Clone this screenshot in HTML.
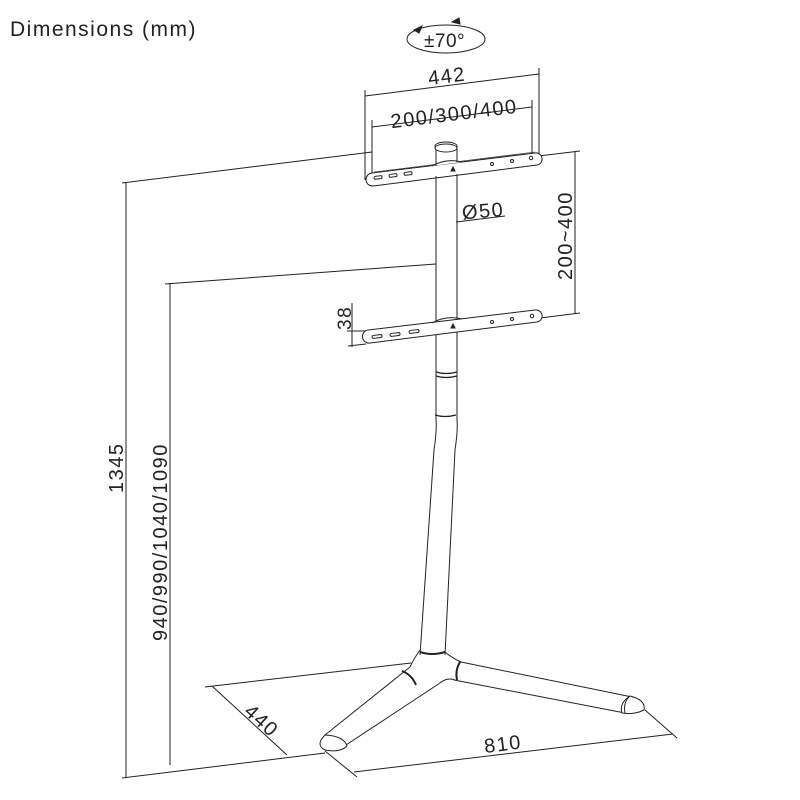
<!DOCTYPE html>
<html><head><meta charset="utf-8"><style>
html,body{margin:0;padding:0;background:#fff;width:800px;height:800px;overflow:hidden}
svg text{font-family:"Liberation Sans",sans-serif;fill:#222;letter-spacing:1.5px}
</style></head><body>
<svg width="800" height="800" viewBox="0 0 800 800" xmlns="http://www.w3.org/2000/svg" fill="none" stroke="#222" stroke-width="1">
<text x="10" y="36" font-size="21" stroke="none">Dimensions (mm)</text>
<!-- rotation -->
<ellipse cx="446" cy="39" rx="39" ry="14"/>
<text x="424" y="47" font-size="19" stroke="none" style="letter-spacing:0.5px">±70°</text>
<path d="M414 30 l8 -4 l-3 7z M460 24 l-8 -2 l7 -4z" fill="#222"/>
<!-- 442 -->
<line x1="365" y1="90" x2="365" y2="180"/><line x1="539" y1="68" x2="539" y2="155"/>
<line x1="365" y1="96" x2="539" y2="74"/>
<text x="428" y="83" font-size="20" stroke="none" transform="rotate(-7 445 76)">442</text>
<line x1="372" y1="120" x2="372" y2="175"/><line x1="532" y1="100" x2="532" y2="155"/>
<line x1="372" y1="127" x2="532" y2="107"/>
<text x="390" y="121" font-size="20" stroke="none" transform="rotate(-7 450 112)">200/300/400</text>
<!-- 1345 -->
<line x1="122" y1="183" x2="372" y2="152"/>
<line x1="126" y1="182" x2="126" y2="778"/>
<line x1="122" y1="778" x2="325" y2="753"/>
<text font-size="20" stroke="none" transform="translate(123 493) rotate(-90)">1345</text>
<!-- 940 -->
<line x1="165" y1="284" x2="436" y2="264"/>
<line x1="170" y1="283" x2="170" y2="765"/>
<text font-size="20" stroke="none" transform="translate(167 641) rotate(-90)">940/990/1040/1090</text>
<!-- 200~400 -->
<line x1="456" y1="166" x2="580" y2="151"/>
<line x1="575" y1="152" x2="575" y2="314"/>
<line x1="540" y1="318" x2="580" y2="313"/>
<text font-size="20" stroke="none" transform="translate(572 280) rotate(-90)">200~400</text>
<!-- 38 -->
<line x1="352" y1="303" x2="352" y2="347"/>
<line x1="347" y1="331" x2="367" y2="331"/>
<line x1="348" y1="346" x2="366" y2="344"/>
<text font-size="19" stroke="none" transform="translate(351 330) rotate(-90)">38</text>
<!-- Ø50 -->
<line x1="456" y1="222" x2="505" y2="216"/>
<text x="462" y="218" font-size="20" stroke="none" transform="rotate(-5 480 212)">Ø50</text>
<!-- pole -->
<path d="M436 146 L436 420 Q437 430 434 450 L420 655 M457 146 L457 420 Q458 430 455 450 L445 655"/>
<ellipse cx="446" cy="146" rx="11" ry="4"/>
<path d="M436 372 q10 3 21 0 M436 376 q10 3 21 0 M435 415 q10 3 21 0" stroke-width="1.3"/>
<!-- top bracket -->
<g>
<path d="M372 173 L535 153 A6 6 0 0 1 537 165 L373 186 A6 6 0 0 1 372 173Z" fill="#fff"/>
<path d="M374 172 L535 152" stroke-width="0.6"/>
<path d="M432 166 q14 -8 30 -4" fill="#fff"/>
<path d="M436 166 L436 148 M457 162 L457 148"/>
<ellipse cx="446" cy="148" rx="11" ry="4" fill="#fff"/>
<path d="M436 176 L436 186 M457 174 L457 184"/>
<rect x="374" y="176" width="8" height="3" rx="1.5" transform="rotate(-7 378 177)"/>
<rect x="389" y="174" width="8" height="3" rx="1.5" transform="rotate(-7 393 175)"/>
<rect x="404" y="172" width="8" height="3" rx="1.5" transform="rotate(-7 408 173)"/>
<circle cx="492" cy="164" r="1.5"/><circle cx="512" cy="161" r="1.5"/><circle cx="531" cy="158" r="1.7"/>
<path d="M451 171 l2 -4 l2 4z" fill="#222"/>
</g>
<!-- lower bracket -->
<g>
<path d="M368 330 L535 310 A6 6 0 0 1 537 322 L370 343 A6 6 0 0 1 368 330Z" fill="#fff"/>
<path d="M432 323 q14 -8 30 -4"/>
<rect x="372" y="335" width="10" height="3" rx="1.5" transform="rotate(-7 377 336)"/>
<rect x="390" y="333" width="10" height="3" rx="1.5" transform="rotate(-7 395 334)"/>
<rect x="409" y="330" width="10" height="3" rx="1.5" transform="rotate(-7 414 331)"/>
<circle cx="492" cy="322" r="1.5"/><circle cx="512" cy="319" r="1.5"/><circle cx="532" cy="316" r="1.7"/>
<path d="M451 328 l2 -4 l2 4z" fill="#222"/>
<path d="M436 342 L436 372 M457 340 L457 372"/>
</g>
<!-- base -->
<path d="M420 650 Q413 660 410 667 L325 735 M440 683 L346 745"/>
<path d="M445 652 Q452 658 461 662 L632 697 M454 680 L625 713"/>
<path d="M440 683 Q447 677 455 680" />
<path d="M420 652 q12 4 25 0" stroke-width="2"/>
<path d="M402 671 q10 4 14 14" stroke-width="2"/>
<path d="M460 662 q-5 8 -3 18" stroke-width="2"/>
<path d="M325 735 q-10 10 0 15 q15 3 22 -4 q-3 -10 -22 -11z" fill="#fff"/>
<path d="M630 696 q16 4 14 14 q-10 5 -22 3 q-3 -10 8 -17z" fill="#fff"/>
<path d="M630 696 q-7 6 -5 17"/>
<!-- floor dims -->
<line x1="205" y1="687" x2="411" y2="663"/>
<line x1="212" y1="686" x2="287" y2="755"/>
<line x1="325" y1="751" x2="357" y2="777"/>
<line x1="645" y1="710" x2="677" y2="738"/>
<line x1="354" y1="772" x2="673" y2="734"/>
<text font-size="20" stroke="none" transform="translate(485 753) rotate(-7)">810</text>
<text font-size="20" stroke="none" transform="translate(243 713) rotate(42)">440</text>
</svg>
</body></html>
